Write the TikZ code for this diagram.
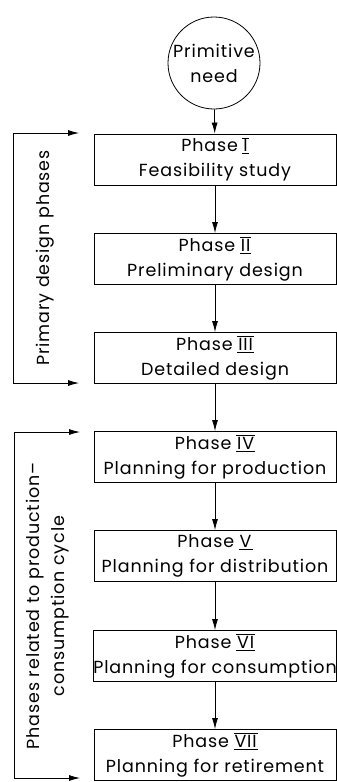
\documentclass[tikz,border=0pt]{standalone}
\usepackage{fontspec}
\setmainfont{Poppins}[LetterSpace=5.0]
\usetikzlibrary{arrows.meta}
\newcommand\rnb[1]{\setbox0\hbox{#1}\kern-1pt\rlap{\rule[-2.5pt]{\dimexpr\wd0+2pt\relax}{0.9pt}}\rlap{\rule[\dimexpr\ht0+1.2pt\relax]{\dimexpr\wd0+2pt\relax}{0.9pt}}\kern1pt\box0\kern1pt}
\newcommand\rnu[1]{\setbox0\hbox{#1}\kern-1pt\rlap{\rule[-2.5pt]{\dimexpr\wd0+2pt\relax}{0.9pt}}\kern1pt\box0\kern1pt}
\begin{document}
\begin{tikzpicture}[x=1pt,y=-1pt,
  every node/.style={font=\fontsize{17.5}{25}\selectfont},
  phasebox/.style={draw, line width=0.8pt, minimum width=242pt, minimum height=51pt, align=center, inner sep=0pt},
  needcircle/.style={draw, circle, line width=0.8pt, minimum size=92pt, align=center, inner sep=0pt},
  arr/.style={line width=0.8pt, -{Latex[length=11pt,width=6pt]}},
  bracket/.style={line width=0.8pt, {Latex[length=11pt,width=6pt]}-{Latex[length=11pt,width=6pt]}}]
\useasboundingbox (0,0) rectangle (337,782);
\node[needcircle] (need) at (214,63) {Primitive\\need};
\node[phasebox] (p1) at (215,159.5) {Phase \rnb{I}\\Feasibility study};
\node[phasebox] (p2) at (215,259) {Phase \rnb{II}\\Preliminary design};
\node[phasebox] (p3) at (215,358) {Phase \rnb{III}\\Detailed design};
\node[phasebox] (p4) at (215,457) {Phase \rnb{IV}\\Planning for production};
\node[phasebox] (p5) at (215,556) {Phase \rnu{V}\\Planning for distribution};
\node[phasebox] (p6) at (215,656) {Phase \rnb{VI}\\Planning for consumption};
\node[phasebox] (p7) at (215,755) {Phase \rnb{VII}\\Planning for retirement};
\draw[arr] (need) -- (p1);
\draw[arr] (p1) -- (p2);
\draw[arr] (p2) -- (p3);
\draw[arr] (p3) -- (p4);
\draw[arr] (p4) -- (p5);
\draw[arr] (p5) -- (p6);
\draw[arr] (p6) -- (p7);
% upper bracket
\coordinate (ua) at (79,133);
\coordinate (ub) at (13,133);
\coordinate (uc) at (13,383);
\coordinate (ud) at (79,383);
\draw[bracket] (ua) -- (ub) -- (uc) -- (ud);
\node[rotate=90] (ulab) at (45,258) {Primary design phases};
% lower bracket
\coordinate (la) at (80,432);
\coordinate (lb) at (14,432);
\coordinate (lc) at (14,778);
\coordinate (ld) at (80,778);
\draw[bracket] (la) -- (lb) -- (lc) -- (ld);
\node[rotate=90, align=center] (llab) at (48,606) {Phases related to production--\\consumption cycle};
\end{tikzpicture}
\end{document}
